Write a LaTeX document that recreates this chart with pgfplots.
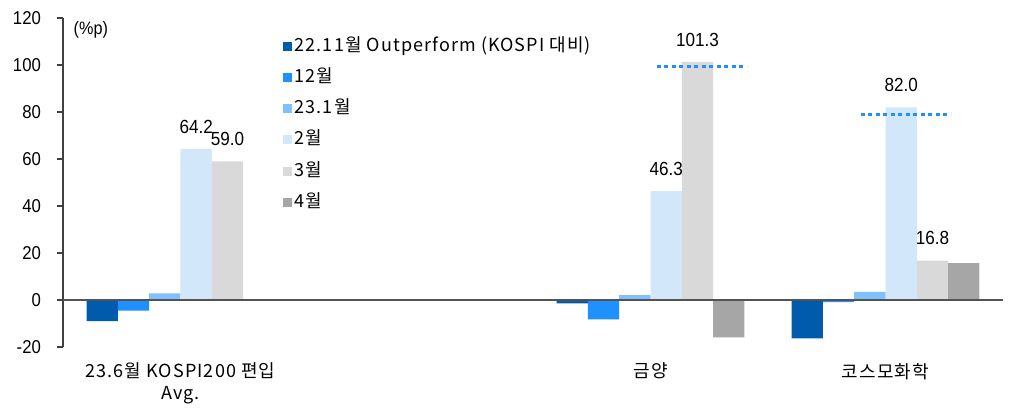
\documentclass[border=0pt]{standalone}
\usepackage{fontspec}
\setmainfont{Liberation Sans}[FakeStretch=0.9]
\newfontfamily\kr{Noto Sans CJK KR}[LetterSpace=6]
\usepackage{pgfplots}
\pgfplotsset{compat=1.18}
\definecolor{c1}{HTML}{005BAC}
\definecolor{c2}{HTML}{1E90FF}
\definecolor{c3}{HTML}{80C0FF}
\definecolor{c4}{HTML}{D3E7FB}
\definecolor{c5}{HTML}{D9D9D9}
\definecolor{c6}{HTML}{A6A6A6}
\definecolor{axisgray}{HTML}{404040}

\begin{document}
\begin{tikzpicture}
\begin{axis}[
    scale only axis,
    width=470pt, height=164.5pt,
    xmin=-0.5, xmax=3.5,
    ymin=-20, ymax=120,
    ybar=0pt, bar width=15.65pt,
    axis lines=left,
    axis line style={-, draw=axisgray, line width=0.9pt},
    x axis line style={draw=none},
    xtick={0,2,3},
    xticklabels={{\kr 23.6월 KOSPI200 편입}\\{\kr Avg.}, {\kr 금양}, {\kr 코스모화학}},
    x tick label style={align=center, font=\fontsize{9}{11}\selectfont, yshift=-1.5pt},
    x tick style={draw=none},
    ytick={-20,0,...,120},
    y tick style={draw=axisgray, line width=0.9pt},
    tick align=outside,
    major tick length=3pt,
    y tick label style={font=\fontsize{9.3}{11}\selectfont, xshift=-4.5pt},
    /pgf/number format/assume math mode=true,
    clip=false,
    legend cell align=left,
    legend style={draw=none, fill=none, at={(0.234,0.95)}, anchor=north west,
        font=\kr\fontsize{9}{10}\selectfont, row sep=4.2pt, inner sep=0pt,
        nodes={inner sep=1.2pt, text height=7pt, text depth=2pt}},
    legend image code/.code={\fill[#1] (0pt,-2.25pt) rectangle (4.5pt,2.25pt);},
    every node near coord/.append style={font=\fontsize{9.5}{11}\selectfont, inner sep=0pt, anchor=south, yshift=7.5pt, text=black},
]
\addplot[fill=c1, draw=none] coordinates {(0,-9.0) (2,-1.4) (3,-16.3)};
\addplot[fill=c2, draw=none] coordinates {(0,-4.5) (2,-8.2) (3,-0.9)};
\addplot[fill=c3, draw=none] coordinates {(0,2.8) (2,2.1) (3,3.5)};
\addplot[fill=c4, draw=none, nodes near coords, point meta=explicit symbolic]
    coordinates {(0,64.2) [64.2] (2,46.3) [46.3] (3,82.0) [82.0]};
\addplot[fill=c5, draw=none, nodes near coords, point meta=explicit symbolic]
    coordinates {(0,59.0) [59.0] (2,101.3) [101.3] (3,16.8) [16.8]};
\addplot[fill=c6, draw=none] coordinates {(2,-15.9) (3,15.7)};
\legend{22.11월 Outperform (KOSPI 대비), 12월, 23.1월, 2월, 3월, 4월}

% zero line and reference lines
\addplot[forget plot, sharp plot, draw=axisgray!90, line width=0.9pt] coordinates {(-0.5,0) (3.5,0)};
\addplot[forget plot, sharp plot, draw=c2, line width=1.6pt, dash pattern=on 2pt off 1.75pt]
    coordinates {(2.026,99.3) (2.409,99.3)};
\addplot[forget plot, sharp plot, draw=c2, line width=1.6pt, dash pattern=on 2pt off 1.75pt]
    coordinates {(2.894,79.0) (3.277,79.0)};

\node[anchor=west, font=\fontsize{9}{11}\selectfont, inner sep=0pt] at (rel axis cs:0.011,0.964) {(\%p)};
\path (rel axis cs:-0.067,-0.179) rectangle (rel axis cs:1.0074,1.0547);
\end{axis}
\end{tikzpicture}
\end{document}
